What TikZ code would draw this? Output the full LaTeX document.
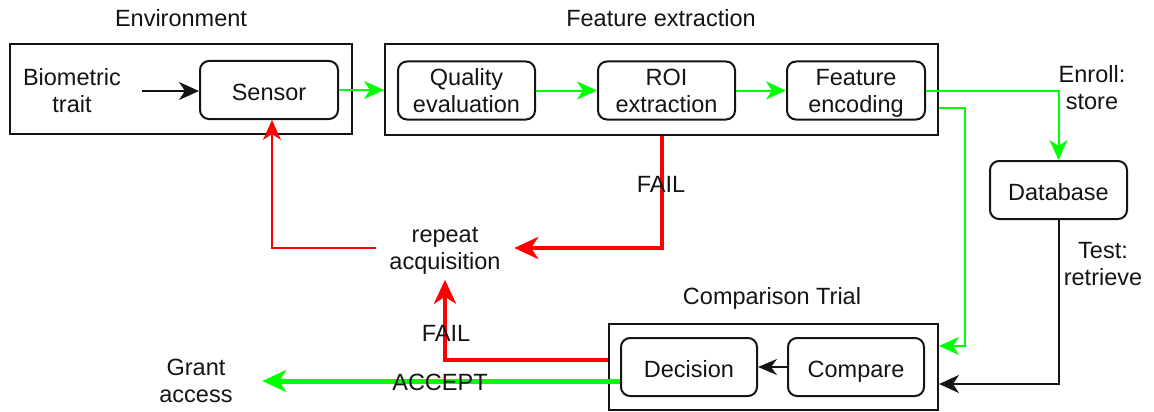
\documentclass[tikz,border=0pt]{standalone}
\usepackage{fontspec}
\setmainfont{Liberation Sans}
\usetikzlibrary{arrows.meta,calc}
\definecolor{okgreen}{RGB}{0,255,0}
\definecolor{failred}{RGB}{255,0,0}
\definecolor{ink}{RGB}{20,20,20}

\begin{document}
\begin{tikzpicture}[x=1pt,y=-1pt,
  every node/.style={font=\fontsize{23.5}{27}\selectfont, align=center, text=ink},
  group/.style={draw=ink, line width=2pt, inner sep=0pt},
  unit/.style={draw=ink, line width=2pt, rounded corners=9pt, inner sep=0pt,
               minimum height=58pt, text depth=0pt,
               % a tall strut on the first line sets the text a little low
               execute at begin node={\rule{0pt}{21pt}}},
  lbl/.style={inner sep=0pt},
  thinarrow/.style={line width=2pt, -{Stealth[length=20pt,width=18pt,inset=6pt]}},
  smallarrow/.style={line width=2pt, -{Stealth[length=19pt,width=16pt,inset=6pt]}},
  thickarrow/.style={line width=4pt, -{Stealth[length=24pt,width=22pt,inset=7pt]}},
]
\useasboundingbox (0,0) rectangle (1154,412);

% group containers
\node[group, minimum width=342pt, minimum height=90pt] (env) at (181,89) {};
\node[group, minimum width=553pt, minimum height=91pt] (fe) at (661.5,89.5) {};
\node[group, minimum width=329pt, minimum height=86pt] (ct) at (773.5,367) {};

% group titles
\node[lbl] (envtitle) at (181,18) {Environment};
\node[lbl] (fetitle) at (661,18) {Feature extraction};
\node[lbl] (cttitle) at (772,298) {Comparison Trial};

% processing units
\node[unit, minimum width=138pt] (sensor) at (269,90) {Sensor};
\node[unit, minimum width=137pt] (qe) at (466.5,90.5) {Quality\\evaluation};
\node[unit, minimum width=137pt] (roi) at (666.5,90.5) {ROI\\extraction};
\node[unit, minimum width=138pt] (enc) at (856,90.5) {Feature\\encoding};
\node[unit, minimum width=137pt] (db) at (1058.5,190) {Database};
\node[unit, minimum width=136pt] (dec) at (689,367) {Decision};
\node[unit, minimum width=136pt] (cmp) at (856,367) {Compare};

% free-standing texts
\node[lbl] (bt) at (72,91) {Biometric\\trait};
\node[inner xsep=13.5pt, inner ysep=5pt] (ra) at (445,251) {repeat\\acquisition};
\node[lbl] (ga) at (196,381) {Grant\\access};

% acquisition chain
\draw[thinarrow, ink] ([xshift=21pt]bt.east) -- (bt.east -| sensor.west);
\draw[thinarrow, okgreen] (sensor.east) -- (sensor.east -| fe.west);
\draw[thinarrow, okgreen] (qe.east) -- (roi.west);
\draw[thinarrow, okgreen] (roi.east) -- (enc.west);

% enrolment and test paths
\draw[thinarrow, okgreen] (enc.east) -| (db.north);
\draw[thinarrow, okgreen] ([yshift=-18pt]fe.east)
   -| ([xshift=26pt,yshift=-23pt]ct.north east) -- ([yshift=-23pt]ct.north east);
\draw[thinarrow, ink] (db.south) |- ([yshift=27pt]ct.south east);
\draw[smallarrow, ink] (cmp.west) -- (dec.east);

% failure loops
\draw[thickarrow, failred] (fe.south) |- ([yshift=3pt]ra.east);
\draw[thinarrow, failred] ([yshift=3pt]ra.west) -| ([xshift=3pt]sensor.south);
\draw[thickarrow, failred] ([yshift=7pt]ct.west) -| (ra.south);

% acceptance
\draw[line width=5pt, okgreen, -{Stealth[length=24pt,width=22pt,inset=7pt]}]
   ([yshift=-14pt]dec.west) -- ([xshift=29.5pt]ga.east);

% connector labels
\node[lbl] (enroll) at (1092,88) {Enroll:\\store};
\node[lbl] (test) at (1103,264) {Test:\\retrieve};
\node[lbl] (fail1) at (661,184) {FAIL};
\node[lbl] (fail2) at (446,333) {FAIL};
\node[lbl] (accept) at (440,382) {ACCEPT};
\end{tikzpicture}
\end{document}
